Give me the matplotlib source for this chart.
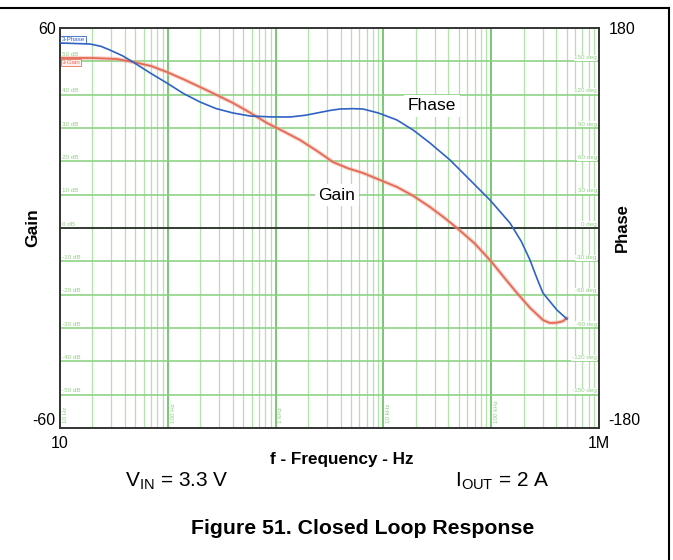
import matplotlib
matplotlib.use("Agg")
import matplotlib.pyplot as plt
import numpy as np

# Bode data
freq_phase = [10, 19, 24, 29, 38, 47.5, 70, 98, 140, 199, 280, 403, 579, 900, 1361, 1900,
              2422, 3200, 3955, 5200, 6470, 9000, 13360, 19000, 27040, 41480, 63580,
              97430, 149300, 190000, 229000, 265000, 302000, 360000, 407000, 504000]
phase_deg = [166.5, 165.6, 163.5, 160.2, 155.0, 149.4, 139.0, 130.5, 121.0, 113.4, 107.5,
             103.5, 100.8, 100.0, 99.9, 101.5, 103.5, 105.8, 107.1, 107.4, 107.1, 103.5,
             97.2, 88.0, 76.5, 61.2, 43.2, 25.2, 4.5, -12.0, -28.8, -45.0, -58.5, -67.5,
             -73.8, -81.9]

freq_gain = [10, 20, 33.8, 47.5, 70, 98, 140, 199, 280, 403, 580, 832, 1200, 1683, 2400,
             3404, 4700, 6470, 9300, 13360, 19000, 27040, 36000, 48190, 70000, 97430,
             130000, 173400, 230000, 302000, 350000, 407000, 460000, 504000]
gain_db = [51.0, 51.0, 50.7, 49.8, 48.6, 46.8, 44.6, 42.3, 40.0, 37.5, 34.6, 31.5, 28.9,
           26.4, 23.2, 19.8, 17.9, 16.5, 14.4, 12.3, 9.6, 6.3, 3.3, 0.0, -4.6, -9.6,
           -14.6, -19.5, -24.0, -27.6, -28.5, -28.4, -28.0, -27.0]

decades = [10, 100, 1000, 10000, 100000, 1000000]
decade_labels = ["10 Hz", "100 Hz", "1 kHz", "10 kHz", "100 kHz"]
gain_grid = [50, 40, 30, 20, 10, 0, -10, -20, -30, -40, -50]
phase_grid = [150, 120, 90, 60, 30, 0, -30, -60, -90, -120, -150]

plt.rcParams['font.family'] = ['Liberation Sans', 'DejaVu Sans']

fig = plt.figure(figsize=(6.73, 5.6), dpi=100)
ax = fig.add_axes([60 / 673, 1 - 428 / 560, 539 / 673, 400 / 560])
ax2 = ax.twinx()

ax.set_xscale('log')
ax.set_xlim(10, 1e6)
ax.set_ylim(-60, 60)
ax2.set_ylim(-180, 180)

# grid
for d in decades[:-1]:
    for m in range(2, 10):
        ax.axvline(d * m, color='#b4e2ac', lw=0.9, zorder=0)
    ax.axvline(d, color='#6cc464', lw=1.3, zorder=0)
for g in gain_grid:
    ax.axhline(g, color='#86d07c', lw=1.1, zorder=0)
ax.axhline(0, color='#222222', lw=1.2, zorder=2.5)

# faint instrument labels, sitting just above their grid lines
gcol = '#8fd083'
for g in gain_grid:
    off = 1.3 if g == 50 else 0.4
    ax.text(10.4, g + off, f"{g} dB", fontsize=4.5, color=gcol, va='bottom', ha='left',
            bbox=dict(fc='white', ec='none', pad=0.3), zorder=2)
for p in phase_grid:
    ax2.text(0.996, (p + 180) / 360 + 0.003, f"{p} deg", transform=ax2.transAxes, fontsize=4.5,
             color=gcol, va='bottom', ha='right', bbox=dict(fc='white', ec='none', pad=0.4), zorder=2)
for d, lab in zip(decades, decade_labels):
    ax.text(d * 1.06, -58.5, lab, fontsize=4.5, color=gcol, rotation=90, va='bottom', ha='left')

ax.plot(freq_gain, gain_db, color='#f0a090', lw=3.0, alpha=0.45, zorder=3,
        solid_capstyle='round')
ax.plot(freq_gain, gain_db, color='#e46a55', lw=1.3, zorder=3)
ax2.plot(freq_phase, phase_deg, color='#2f62c4', lw=1.2, zorder=3)

ax.text(10.3, 56.5, "3-Phase", fontsize=4.5, color='#2f62c4', va='center', ha='left',
        bbox=dict(fc='white', ec='#2f62c4', lw=0.6, pad=0.8), zorder=4)
ax.text(10.3, 49.6, "3-Gain", fontsize=4.5, color='#e8735f', va='center', ha='left',
        bbox=dict(fc='#fdf0ee', ec='#e8735f', lw=0.6, pad=0.6), zorder=4)

ax.text(28250, 36.6, "Fhase", fontsize=12.5, ha='center', va='center',
        bbox=dict(fc='white', ec='none', pad=2.5), zorder=4)
ax.text(3700, 9.9, "Gain", fontsize=12.5, ha='center', va='center',
        bbox=dict(fc='white', ec='none', pad=2.5), zorder=4)

# ticks: only the ends
ax.set_xticks([10, 1e6], ['10', '1M'])
ax.set_xticks([], minor=True)
ax.set_yticks([-60, 60], ['-60', '60'])
ax2.set_yticks([-180, 180], ['-180', '180'])
ax.tick_params(length=0, labelsize=11.5, pad=3)
ax.tick_params(axis='x', pad=6)
ax2.tick_params(length=0, labelsize=11.5, pad=7)
ax.get_yticklabels()[0].set_va('bottom')
ax2.get_yticklabels()[0].set_va('bottom')

for a in (ax, ax2):
    for s in a.spines.values():
        s.set_color('#333333')
        s.set_linewidth(1.2)

ax.set_ylabel("Gain", fontsize=12.5, fontweight='bold')
ax.yaxis.set_label_coords(-0.037, 0.5)
ax2.set_ylabel("Phase", fontsize=12, fontweight='bold', rotation=90)
ax2.yaxis.set_label_coords(1.03, 0.5)
ax.set_xlabel("f - Frequency - Hz", fontsize=12.3, fontweight='bold')
ax.xaxis.set_label_coords(0.523, -0.06)

fig.text(177 / 673, 1 - 481 / 560, r"V$_{\mathregular{IN}}$ = 3.3 V", fontsize=15, ha='center', va='center')
fig.text(502 / 673, 1 - 481 / 560, r"I$_{\mathregular{OUT}}$ = 2 A", fontsize=15, ha='center', va='center')
fig.text(363 / 673, 1 - 528 / 560, "Figure 51. Closed Loop Response", fontsize=15.3,
         fontweight='bold', ha='center', va='center')

# partial frame around the figure
fig.add_artist(plt.Line2D([0, 669 / 673], [1 - 8 / 560, 1 - 8 / 560], color='black', lw=1.5,
                          transform=fig.transFigure))
fig.add_artist(plt.Line2D([669 / 673, 669 / 673], [0, 1 - 8 / 560], color='black', lw=1.5,
                          transform=fig.transFigure))

fig.savefig("out.png", dpi=100)
